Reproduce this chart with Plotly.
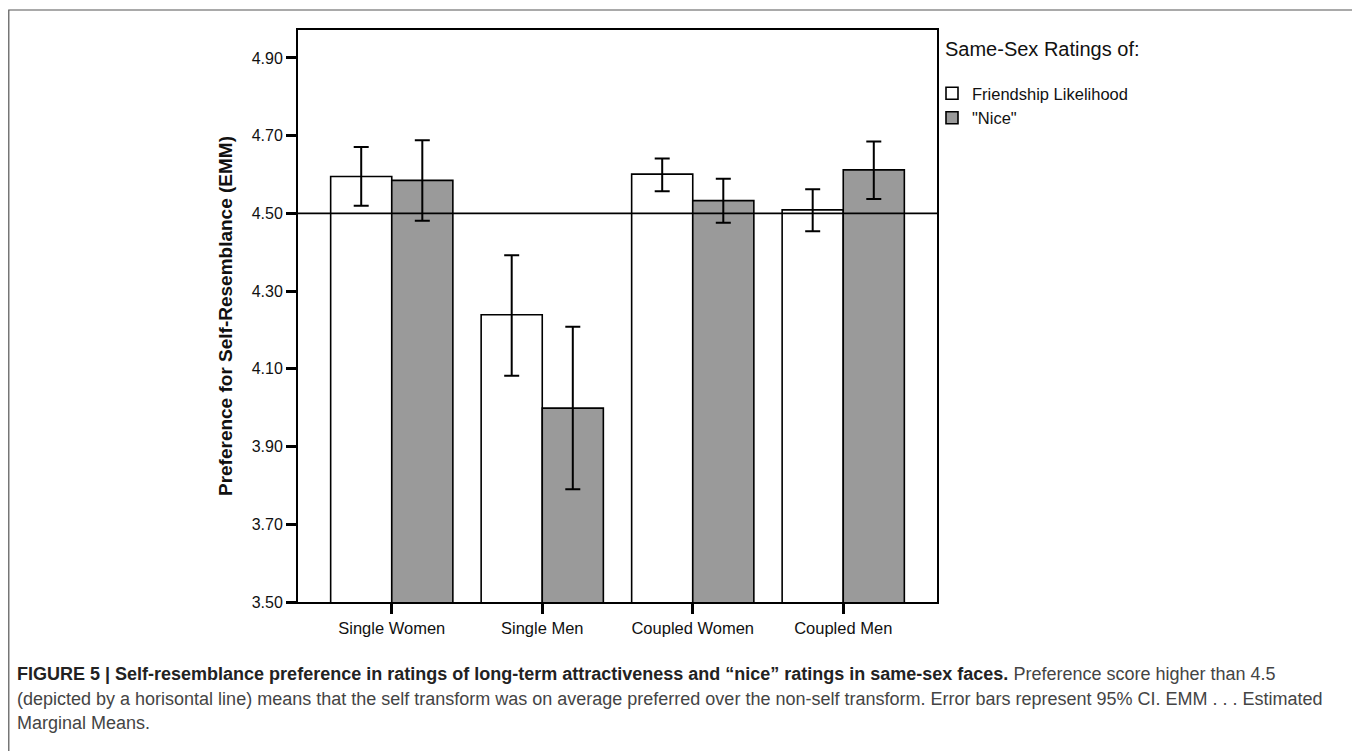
import plotly.graph_objects as go

categories = ["Single Women", "Single Men", "Coupled Women", "Coupled Men"]

friend_mean = [4.595, 4.239, 4.601, 4.509]
friend_lo = [4.520, 4.082, 4.557, 4.454]
friend_hi = [4.671, 4.392, 4.641, 4.562]

nice_mean = [4.585, 3.999, 4.533, 4.612]
nice_lo = [4.481, 3.790, 4.476, 4.537]
nice_hi = [4.688, 4.208, 4.589, 4.685]

y_ticks = [3.50, 3.70, 3.90, 4.10, 4.30, 4.50, 4.70, 4.90]
reference_value = 4.5

series_names = ["Friendship Likelihood", "\"Nice\""]
legend_title = "Same-Sex Ratings of:"
y_title = "Preference for Self-Resemblance (EMM)"

caption_lines = [
    "<b>FIGURE 5 | Self-resemblance preference in ratings of long-term attractiveness and “nice” ratings in same-sex faces.</b>"
    "<span style='color:#444'> Preference score higher than 4.5</span>",
    "<span style='color:#444'>(depicted by a horisontal line) means that the self transform was on average preferred over the non-self transform. Error bars represent 95% CI. EMM . . . Estimated</span>",
    "<span style='color:#444'>Marginal Means.</span>",
]

FONT = "Liberation Sans, Arial, sans-serif"

# the page places the figure 8px in from the top-left corner
OFF = 8
W, H = 1360 - OFF, 751 - OFF
# plot area in reference-image pixels
RL, RR, RT, RB = 298, 937, 30, 602
PL, PR, PT, PB = RL - OFF, RR - OFF, RT - OFF, RB - OFF


def px_x(px):
    return (px - RL) / (RR - RL)


def px_y(py):
    return (RB - py) / (RB - RT)


fig = go.Figure()

fig.add_trace(go.Bar(
    x=categories, y=friend_mean, name=series_names[0],
    marker=dict(color="white", line=dict(color="black", width=1.6)),
    error_y=dict(type="data", symmetric=False,
                 array=[h - m for h, m in zip(friend_hi, friend_mean)],
                 arrayminus=[m - l for m, l in zip(friend_mean, friend_lo)],
                 color="black", thickness=2, width=7.5),
))
fig.add_trace(go.Bar(
    x=categories, y=nice_mean, name=series_names[1],
    marker=dict(color="#9a9a9a", line=dict(color="black", width=1.6)),
    error_y=dict(type="data", symmetric=False,
                 array=[h - m for h, m in zip(nice_hi, nice_mean)],
                 arrayminus=[m - l for m, l in zip(nice_mean, nice_lo)],
                 color="black", thickness=2, width=7.5),
))

shapes = [
    dict(type="line", xref="paper", yref="y", x0=0, x1=1,
         y0=reference_value, y1=reference_value,
         line=dict(color="black", width=1.6), layer="above"),
    dict(type="rect", xref="paper", yref="paper",
         x0=px_x(8.8), x1=px_x(1355), y0=px_y(790), y1=px_y(10),
         line=dict(color="#555", width=1.2), fillcolor="rgba(0,0,0,0)"),
]

annotations = [
    dict(text=legend_title, xref="paper", yref="paper", x=px_x(943), y=px_y(49),
         xanchor="left", yanchor="middle", showarrow=False,
         font=dict(family=FONT, size=20, color="#111")),
]
cap_y = [674, 699, 723]
for line, yy in zip(caption_lines, cap_y):
    annotations.append(dict(text=line, xref="paper", yref="paper",
                            x=px_x(15), y=px_y(yy), xanchor="left", yanchor="middle",
                            showarrow=False, align="left",
                            font=dict(family=FONT, size=18, color="#222")))

fig.update_layout(
    width=W, height=H,
    margin=dict(l=PL, r=W - PR, t=PT, b=H - PB, pad=0),
    paper_bgcolor="white", plot_bgcolor="white",
    barmode="group", bargap=0.188, bargroupgap=0,
    font=dict(family=FONT, color="#111"),
    showlegend=True,
    legend=dict(x=px_x(932), y=px_y(76), xanchor="left", yanchor="top",
                font=dict(family=FONT, size=16.5, color="#111"),
                bgcolor="rgba(0,0,0,0)", itemwidth=30, tracegroupgap=0,
                traceorder="normal"),
    shapes=shapes,
    annotations=annotations,
    xaxis=dict(type="category", range=[-0.623, 3.623],
               showline=True, linecolor="black", linewidth=2, mirror=True,
               ticks="outside", ticklen=10, tickwidth=2.5, tickcolor="black",
               tickfont=dict(family=FONT, size=16.5, color="#111"),
               showgrid=False, zeroline=False),
    yaxis=dict(range=[3.5, 3.5 + (RB - RT) / 388.6],
               tickvals=y_ticks, ticktext=[f"{v:.2f}" for v in y_ticks],
               showline=True, linecolor="black", linewidth=2, mirror=True,
               ticks="outside", ticklen=10, tickwidth=3, tickcolor="black",
               tickfont=dict(family=FONT, size=16, color="#111"),
               title=dict(text="<b>" + y_title + "</b>", standoff=14,
                          font=dict(family=FONT, size=19, color="#111")),
               showgrid=False, zeroline=False),
)

fig.write_html("out.html")
